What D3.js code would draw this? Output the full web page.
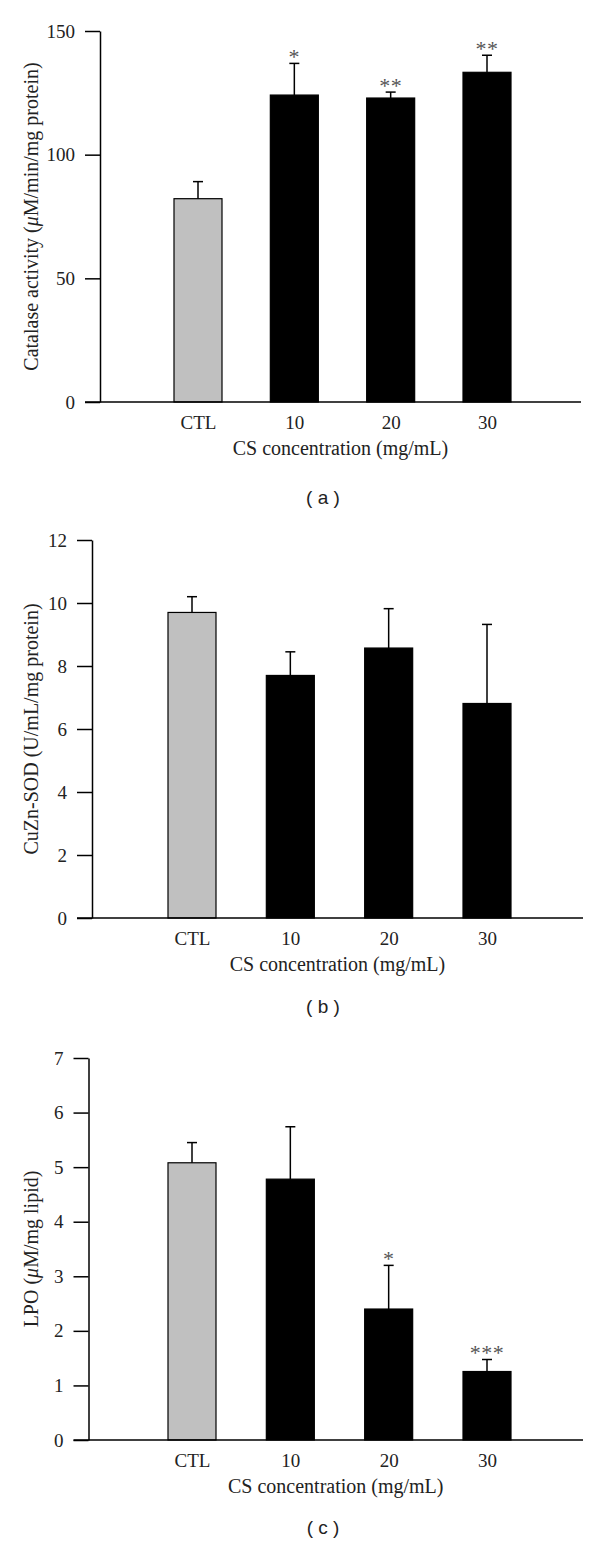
<!DOCTYPE html>
<html>
<head>
<meta charset="utf-8">
<script src="https://cdn.jsdelivr.net/npm/d3@7"></script>
<style>
  html, body { margin: 0; padding: 0; background: #fff; }
  svg text { font-family: "Liberation Serif", "Times New Roman", serif; fill: #222; }
  svg text.panel { font-family: "Liberation Sans", Arial, sans-serif; }
</style>
</head>
<body>
<svg id="chart" width="600" height="1547"></svg>
<script>
const categories = ["CTL", "10", "20", "30"];

const catalaseMean = [82.2, 124.1, 122.9, 133.3];
const catalaseErr  = [6.9, 12.8, 2.4, 6.9];
const catalaseSig  = ["", "*", "**", "**"];
const catalaseTicks = [0, 50, 100, 150];

const sodMean = [9.70, 7.70, 8.57, 6.81];
const sodErr  = [0.50, 0.75, 1.25, 2.51];
const sodSig  = ["", "", "", ""];
const sodTicks = [0, 2, 4, 6, 8, 10, 12];

const lpoMean = [5.08, 4.78, 2.40, 1.255];
const lpoErr  = [0.37, 0.96, 0.80, 0.22];
const lpoSig  = ["", "", "*", "***"];
const lpoTicks = [0, 1, 2, 3, 4, 5, 6, 7];

const xTitle = "CS concentration (mg/mL)";

const panels = [
  { mean: catalaseMean, err: catalaseErr, sig: catalaseSig, ticks: catalaseTicks,
    yTitle: ["Catalase activity (", "μ", "M/min/mg protein)"], label: "( a )",
    axisX: 100, xEnd: 581, y0: 402, yTop: 31, first: 198, last: 487, labelY: 504 },
  { mean: sodMean, err: sodErr, sig: sodSig, ticks: sodTicks,
    yTitle: ["CuZn-SOD (U/mL/mg protein)"], label: "( b )",
    axisX: 92, xEnd: 583, y0: 918, yTop: 540, first: 192, last: 487, labelY: 1013 },
  { mean: lpoMean, err: lpoErr, sig: lpoSig, ticks: lpoTicks,
    yTitle: ["LPO (", "μ", "M/mg lipid)"], label: "( c )",
    axisX: 88.5, xEnd: 583, y0: 1440, yTop: 1058, first: 192, last: 487, labelY: 1534 }
];

const svg = d3.select("#chart");
const barW = 48, tickLen = 15, capW = 10;

panels.forEach(p => {
  const g = svg.append("g");
  const yMax = p.ticks[p.ticks.length - 1];
  const y = d3.scaleLinear().domain([0, yMax]).range([p.y0, p.yTop]);
  const x = d3.scalePoint().domain(categories).range([p.first, p.last]);

  g.selectAll("rect.bar").data(p.mean).join("rect")
    .attr("class", "bar")
    .attr("x", (d, i) => x(categories[i]) - barW / 2)
    .attr("y", d => y(d))
    .attr("width", barW)
    .attr("height", d => p.y0 - y(d))
    .attr("fill", (d, i) => i === 0 ? "#c0c0c0" : "#000")
    .attr("stroke", "#000")
    .attr("stroke-width", 1.2);

  p.mean.forEach((m, i) => {
    const cx = x(categories[i]);
    const top = y(m + p.err[i]);
    g.append("line").attr("x1", cx).attr("x2", cx).attr("y1", y(m)).attr("y2", top)
      .attr("stroke", "#000").attr("stroke-width", 1.5);
    g.append("line").attr("x1", cx - capW / 2).attr("x2", cx + capW / 2).attr("y1", top).attr("y2", top)
      .attr("stroke", "#000").attr("stroke-width", 1.5);
    if (p.sig[i]) {
      g.append("text").attr("x", cx).attr("y", top + 0.5)
        .attr("text-anchor", "middle").attr("font-size", 22)
        .attr("letter-spacing", 0.5)
        .style("fill", "#555")
        .text(p.sig[i]);
    }
  });

  const yAxis = d3.axisLeft(y).tickValues(p.ticks).tickSize(tickLen).tickSizeOuter(0).tickPadding(10)
    .tickFormat(d3.format("d"));
  const ya = g.append("g").attr("transform", `translate(${p.axisX},0)`).call(yAxis);
  ya.attr("font-family", null).attr("font-size", null);
  ya.select(".domain").attr("stroke", "#000").attr("stroke-width", 1.5);
  ya.selectAll(".tick line").attr("stroke", "#000").attr("stroke-width", 1.5);
  ya.selectAll(".tick text").attr("font-size", 19).style("fill", "#222");

  const xa = d3.axisBottom(x).tickSize(0).tickPadding(14);
  const xg = g.append("g").attr("transform", `translate(0,${p.y0})`).call(xa);
  xg.attr("font-family", null).attr("font-size", null);
  xg.select(".domain").remove();
  xg.selectAll(".tick text").attr("font-size", 19).style("fill", "#222");
  g.append("line").attr("x1", p.axisX - tickLen).attr("x2", p.xEnd)
    .attr("y1", p.y0).attr("y2", p.y0).attr("stroke", "#000").attr("stroke-width", 1.5);

  g.append("text").attr("x", (p.axisX + p.xEnd) / 2).attr("y", p.y0 + 53)
    .attr("text-anchor", "middle").attr("font-size", 20).text(xTitle);

  const yt = g.append("text")
    .attr("transform", `translate(38,${(p.y0 + p.yTop) / 2}) rotate(-90)`)
    .attr("text-anchor", "middle").attr("font-size", 20);
  p.yTitle.forEach(s => {
    yt.append("tspan").attr("font-style", s === "μ" ? "italic" : null).text(s);
  });

  g.append("text").attr("class", "panel").attr("x", 323).attr("y", p.labelY)
    .attr("text-anchor", "middle").attr("font-size", 19)
    .style("white-space", "pre").text(p.label);
});
</script>
</body>
</html>
